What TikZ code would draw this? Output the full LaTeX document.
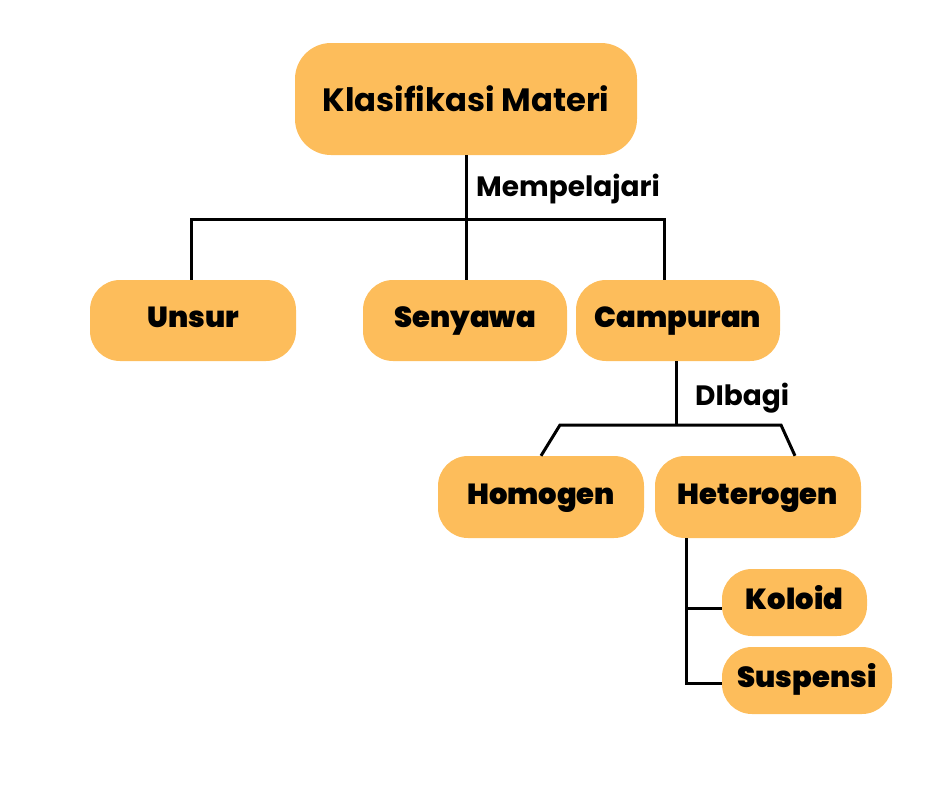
\documentclass[tikz,border=0pt]{standalone}
\usepackage{fontspec}
\setmainfont{Poppins}
\newfontfamily\heavyfont{Poppins}[UprightFont={* Black}]
\definecolor{boxfill}{HTML}{FDBD5B}
\begin{document}
\begin{tikzpicture}[x=1pt,y=-1pt,
  box/.style={fill=boxfill,draw=none,rounded corners=30pt,inner sep=0pt,align=center},
  lbl/.style={font=\heavyfont\fontsize{29}{33}\selectfont,text=black,text height=21.75pt,text depth=7.25pt},
  conn/.style={draw=black,line width=3pt},
  edgelbl/.style={font=\bfseries\fontsize{28}{32}\selectfont,text=black,anchor=west,inner sep=0pt,text height=21pt,text depth=7pt}]
\useasboundingbox (0,0) rectangle (940,788);
\node[box,minimum width=342pt,minimum height=112pt,rounded corners=36pt,font=\fontsize{32.3}{36}\selectfont\bfseries] (root) at (466,99) {Klasifikasi Materi};
\node[box,lbl,minimum width=206pt,minimum height=81pt] (unsur) at (193,320.5) {Unsur};
\node[box,lbl,minimum width=204pt,minimum height=81pt] (senyawa) at (465,320.5) {Senyawa};
\node[box,lbl,minimum width=204pt,minimum height=81pt] (campuran) at (678,320.5) {Campuran};
\node[box,lbl,minimum width=206pt,minimum height=82pt] (homogen) at (541,497) {Homogen};
\node[box,lbl,minimum width=206pt,minimum height=82pt] (heterogen) at (758,497) {Heterogen};
\node[box,lbl,minimum width=145pt,minimum height=67pt] (koloid) at (794.5,602.5) {Koloid};
\node[box,lbl,minimum width=170pt,minimum height=67pt] (suspensi) at (807,680.5) {Suspensi};
% Level 1 connectors
\coordinate (j1) at (466,219);
\coordinate (l1) at (191,219);
\coordinate (r1) at (664,219);
\draw[conn] (root.south -| j1) -- (j1 |- senyawa.north);
\draw[conn,line cap=rect] (l1) -- (r1);
\draw[conn] (l1) -- (l1 |- unsur.north);
\draw[conn] (r1) -- (r1 |- campuran.north);
\node[edgelbl] (mp) at (476,189) {Mempelajari};
% Level 2 connectors
\coordinate (j2) at (676,425);
\coordinate (l2) at (560,425);
\coordinate (r2) at (781,425);
\draw[conn] (campuran.south -| j2) -- (j2);
\draw[conn,line join=miter] (homogen.north -| 541,0) -- (l2) -- (r2) -- (795,0 |- heterogen.north);
\node[edgelbl] (db) at (695,398) {DIbagi};
% Level 3 connectors
\coordinate (v3) at (686,683);
\draw[conn,line join=miter] (heterogen.south -| v3) -- (v3) -- (v3 -| suspensi.west);
\draw[conn] (686,608) -- (686,608 -| koloid.west);
\end{tikzpicture}
\end{document}
